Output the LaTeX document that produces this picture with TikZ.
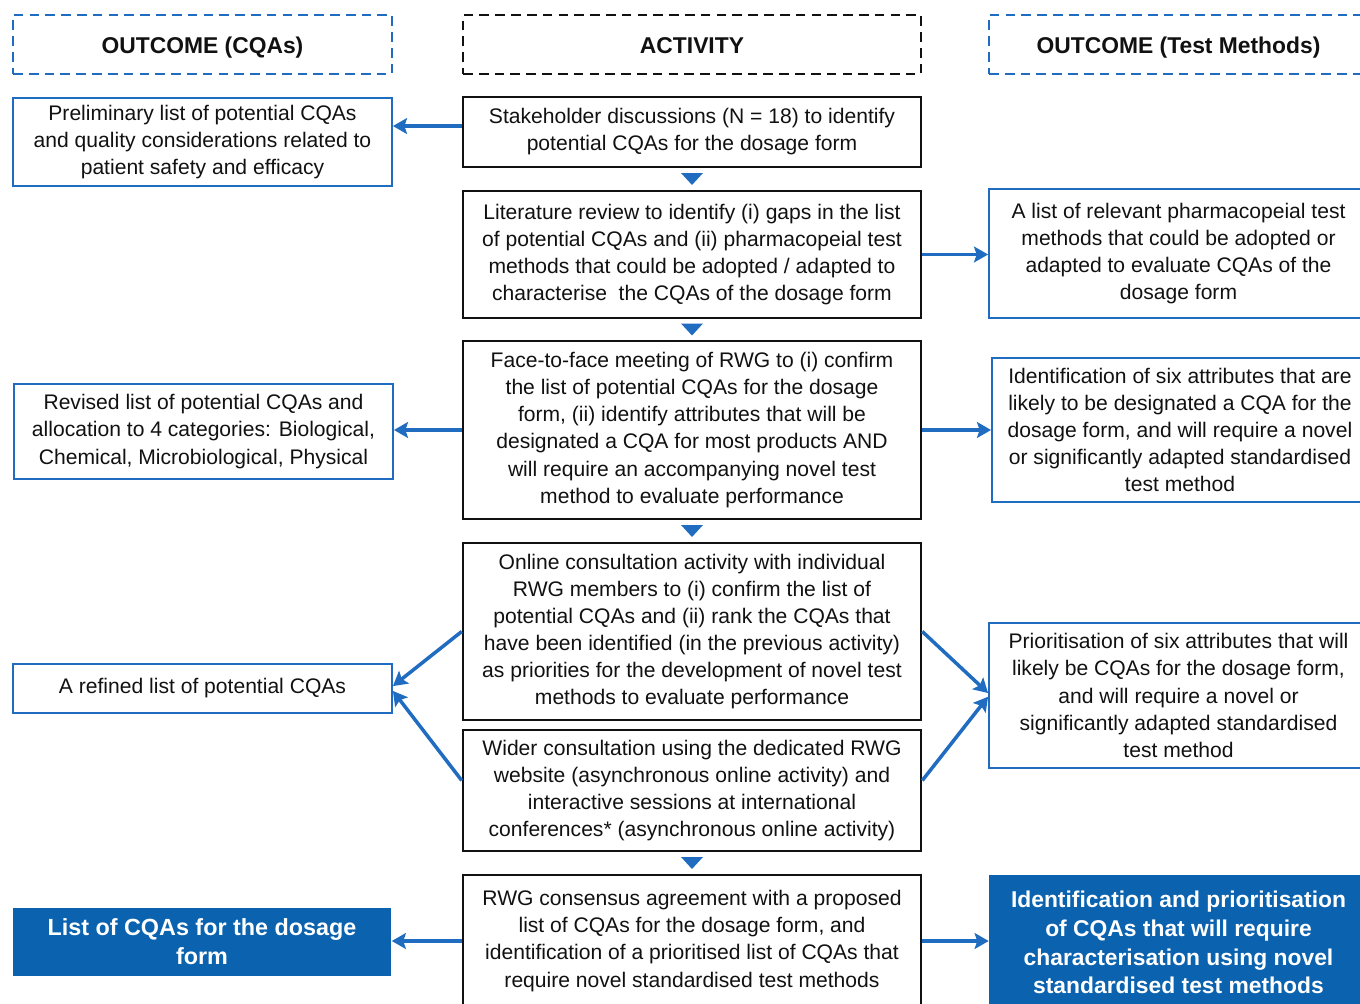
\documentclass[tikz,border=0pt]{standalone}
\usepackage{fontspec}
\setmainfont{Liberation Sans}
\usepackage{tikz}
\usetikzlibrary{arrows.meta,positioning,calc}
\definecolor{blue1}{HTML}{1F6CC0}
\definecolor{blue2}{HTML}{0B62AE}
\definecolor{ink}{HTML}{111111}

\begin{document}
\begin{tikzpicture}[x=0.02cm,y=-0.02cm,
  body/.style={font=\fontsize{12}{15.4}\selectfont,align=center,inner sep=0pt,text=ink},
  actbox/.style={body,draw=ink,line width=1.5pt,minimum width=9.16cm},
  outbox/.style={body,draw=blue1,line width=1.1pt,minimum width=7.58cm},
  donebox/.style={align=center,inner sep=0pt,fill=blue2,text=white,minimum width=7.58cm,
                  font=\bfseries\fontsize{13}{16.4}\selectfont},
  headbox/.style={font=\bfseries\fontsize{13}{15}\selectfont,text=ink,line width=1.1pt,
                  dash pattern=on 5.5pt off 3.5pt,minimum height=1.18cm,
                  text height=10.5pt,text depth=0pt},
  flow/.style={draw=blue1,line width=2pt,-{Stealth[length=8pt,width=9pt,inset=1.5pt]}}]
  \useasboundingbox (0,0) rectangle (1360,1004);
  \clip (0,0) rectangle (1360,1004);
  % column heads
  \node[headbox,draw=blue1,minimum width=7.58cm] (hcqa) at (202.5,44.5) {OUTCOME (CQAs)};
  \node[headbox,draw=ink,minimum width=9.16cm] (hact) at (692,44.5) {ACTIVITY};
  \node[headbox,draw=blue1,minimum width=7.58cm] (htest) at (1178.5,44.5) {OUTCOME (Test Methods)};
  % activities
  \node[actbox,minimum height=1.4cm] (a1) at (692,132)
       {Stakeholder discussions (N = 18) to identify\\potential CQAs for the dosage form};
  \node[actbox,minimum height=2.54cm] (a2) at (692,254.5)
       {Literature review to identify (i) gaps in the list\\of potential CQAs and (ii) pharmacopeial test\\
        methods that could be adopted / adapted to\\characterise~ the CQAs of the dosage form};
  \node[actbox,minimum height=3.56cm] (a3) at (692,430)
       {Face-to-face meeting of RWG to (i) confirm\\the list of potential CQAs for the dosage\\
        form, (ii) identify attributes that will be\\designated a CQA for most products AND\\
        will require an accompanying novel test\\method to evaluate performance};
  \node[actbox,minimum height=3.54cm] (a4) at (692,631.5)
       {Online consultation activity with individual\\RWG members to (i) confirm the list of\\
        potential CQAs and (ii) rank the CQAs that\\have been identified (in the previous activity)\\
        as priorities for the development of novel test\\methods to evaluate performance};
  \node[actbox,minimum height=2.42cm] (a5) at (692,790.5)
       {Wider consultation using the dedicated RWG\\website (asynchronous online activity) and\\
        interactive sessions at international\\conferences* (asynchronous online activity)};
  \node[actbox,minimum height=2.64cm] (a6) at (692,941)
       {RWG consensus agreement with a proposed\\list of CQAs for the dosage form, and\\
        identification of a prioritised list of CQAs that\\require novel standardised test methods};
  % CQA outcomes
  \node[outbox,minimum height=1.76cm] (l1) at (202.5,142)
       {Preliminary list of potential CQAs\\and quality considerations related to\\patient safety and efficacy};
  \node[outbox,minimum height=1.9cm] (l2) at (203.5,431.5)
       {Revised list of potential CQAs and\\allocation to 4 categories: Biological,\\Chemical, Microbiological, Physical};
  \node[outbox,minimum height=0.98cm] (l3) at (202.5,688.5) {A refined list of potential CQAs};
  \node[donebox,minimum height=1.36cm,font=\bfseries\fontsize{13.3}{16.4}\selectfont] (l4) at (202,942)
       {List of CQAs for the dosage\\form};
  % test method outcomes
  \node[outbox,minimum height=2.58cm] (r1) at (1178.5,253.5)
       {A list of relevant pharmacopeial test\\methods that could be adopted or\\adapted to evaluate CQAs of the\\dosage form};
  \node[outbox,minimum width=7.52cm,minimum height=2.88cm] (r2) at (1180,430)
       {Identification of six attributes that are\\likely to be designated a CQA for the\\
        dosage form, and will require a novel\\or significantly adapted standardised\\test method};
  \node[outbox,minimum height=2.9cm] (r3) at (1178.5,695.5)
       {Prioritisation of six attributes that will\\likely be CQAs for the dosage form,\\
        and will require a novel or\\significantly adapted standardised\\test method};
  \node[donebox,minimum height=2.7cm] (r4) at (1178.5,942.5)
       {Identification and prioritisation\\of CQAs that will require\\characterisation using novel\\standardised test methods};
  % down markers between activities
  \foreach \a/\b in {a1/a2,a2/a3,a3/a4,a5/a6}{
    \fill[blue1] ($(\a.south)!.5!(\b.north)$) ++(-11,-6) -- ++(22,0) -- ++(-11,12) -- cycle;}
  % outcome arrows
  \draw[flow] ([yshift=3.4pt]a1.west) -- ([yshift=3.4pt]a1.west -| l1.east);
  \draw[flow] (a2.east) -- (a2.east -| r1.west);
  \draw[flow] (a3.west) -- (a3.west -| l2.east);
  \draw[flow] (a3.east) -- (a3.east -| r2.west);
  \draw[flow] (a4.west) -- ([yshift=1.4pt]l3.east);
  \draw[flow] ([yshift=5.7pt]a5.west) -- ([yshift=-1.4pt]l3.east);
  \draw[flow] (a4.east) -- ([yshift=1.4pt]r3.west);
  \draw[flow] ([yshift=5.7pt]a5.east) -- ([yshift=-0.7pt]r3.west);
  \draw[flow] (a6.west) -- (a6.west -| l4.east);
  \draw[flow] (a6.east) -- (a6.east -| r4.west);
\end{tikzpicture}
\end{document}
